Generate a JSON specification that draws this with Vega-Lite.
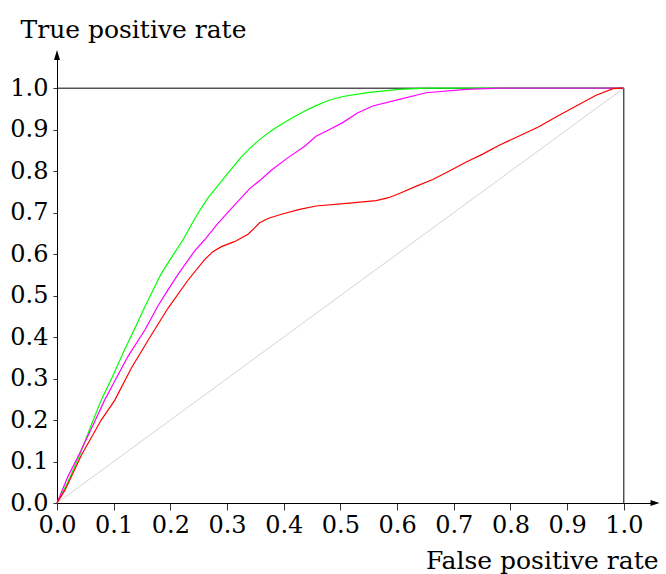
{
  "$schema": "https://vega.github.io/schema/vega-lite/v6.json",
  "width": 598,
  "height": 448,
  "autosize": {"type": "none"},
  "padding": {"left": 57, "top": 55, "right": 11, "bottom": 71},
  "background": "white",
  "config": {
    "view": {"stroke": null},
    "axis": {
      "grid": false,
      "domainColor": "black",
      "domainWidth": 1,
      "tickColor": "#333333",
      "tickWidth": 1,
      "labelColor": "black",
      "labelOverlap": false,
      "labelFlush": false,
      "titleFontWeight": "normal",
      "titleColor": "black"
    }
  },
  "datasets": {
    "roc": [
      {"model": "green", "fpr": 0, "tpr": 0},
      {"model": "green", "fpr": 0.019, "tpr": 0.05},
      {"model": "green", "fpr": 0.04, "tpr": 0.115},
      {"model": "green", "fpr": 0.061, "tpr": 0.19},
      {"model": "green", "fpr": 0.078, "tpr": 0.248},
      {"model": "green", "fpr": 0.098, "tpr": 0.305},
      {"model": "green", "fpr": 0.119, "tpr": 0.369},
      {"model": "green", "fpr": 0.137, "tpr": 0.42},
      {"model": "green", "fpr": 0.155, "tpr": 0.473},
      {"model": "green", "fpr": 0.184, "tpr": 0.553},
      {"model": "green", "fpr": 0.202, "tpr": 0.592},
      {"model": "green", "fpr": 0.222, "tpr": 0.634},
      {"model": "green", "fpr": 0.245, "tpr": 0.69},
      {"model": "green", "fpr": 0.266, "tpr": 0.735},
      {"model": "green", "fpr": 0.285, "tpr": 0.767},
      {"model": "green", "fpr": 0.302, "tpr": 0.796},
      {"model": "green", "fpr": 0.325, "tpr": 0.834},
      {"model": "green", "fpr": 0.34, "tpr": 0.855},
      {"model": "green", "fpr": 0.36, "tpr": 0.879},
      {"model": "green", "fpr": 0.38, "tpr": 0.899},
      {"model": "green", "fpr": 0.396, "tpr": 0.913},
      {"model": "green", "fpr": 0.417, "tpr": 0.93},
      {"model": "green", "fpr": 0.437, "tpr": 0.945},
      {"model": "green", "fpr": 0.457, "tpr": 0.958},
      {"model": "green", "fpr": 0.48, "tpr": 0.971},
      {"model": "green", "fpr": 0.504, "tpr": 0.98},
      {"model": "green", "fpr": 0.551, "tpr": 0.99},
      {"model": "green", "fpr": 0.604, "tpr": 0.997},
      {"model": "green", "fpr": 0.651, "tpr": 1.0},
      {"model": "green", "fpr": 1.0, "tpr": 1.0},
      {"model": "magenta", "fpr": 0, "tpr": 0},
      {"model": "magenta", "fpr": 0.019, "tpr": 0.063},
      {"model": "magenta", "fpr": 0.04, "tpr": 0.12},
      {"model": "magenta", "fpr": 0.061, "tpr": 0.18},
      {"model": "magenta", "fpr": 0.084, "tpr": 0.248},
      {"model": "magenta", "fpr": 0.105, "tpr": 0.302},
      {"model": "magenta", "fpr": 0.125, "tpr": 0.353},
      {"model": "magenta", "fpr": 0.155, "tpr": 0.417},
      {"model": "magenta", "fpr": 0.178, "tpr": 0.475},
      {"model": "magenta", "fpr": 0.195, "tpr": 0.512},
      {"model": "magenta", "fpr": 0.213, "tpr": 0.55},
      {"model": "magenta", "fpr": 0.243, "tpr": 0.608},
      {"model": "magenta", "fpr": 0.26, "tpr": 0.634},
      {"model": "magenta", "fpr": 0.284, "tpr": 0.674},
      {"model": "magenta", "fpr": 0.313, "tpr": 0.718},
      {"model": "magenta", "fpr": 0.34, "tpr": 0.758},
      {"model": "magenta", "fpr": 0.36, "tpr": 0.78},
      {"model": "magenta", "fpr": 0.378, "tpr": 0.802},
      {"model": "magenta", "fpr": 0.407, "tpr": 0.832},
      {"model": "magenta", "fpr": 0.437, "tpr": 0.86},
      {"model": "magenta", "fpr": 0.457, "tpr": 0.884},
      {"model": "magenta", "fpr": 0.48, "tpr": 0.9},
      {"model": "magenta", "fpr": 0.504, "tpr": 0.917},
      {"model": "magenta", "fpr": 0.53, "tpr": 0.94},
      {"model": "magenta", "fpr": 0.557, "tpr": 0.957},
      {"model": "magenta", "fpr": 0.604, "tpr": 0.973},
      {"model": "magenta", "fpr": 0.651, "tpr": 0.989},
      {"model": "magenta", "fpr": 0.722, "tpr": 0.997},
      {"model": "magenta", "fpr": 0.781, "tpr": 1.0},
      {"model": "magenta", "fpr": 1.0, "tpr": 1.0},
      {"model": "red", "fpr": 0, "tpr": 0},
      {"model": "red", "fpr": 0.014, "tpr": 0.031},
      {"model": "red", "fpr": 0.043, "tpr": 0.115},
      {"model": "red", "fpr": 0.078, "tpr": 0.2},
      {"model": "red", "fpr": 0.102, "tpr": 0.248},
      {"model": "red", "fpr": 0.131, "tpr": 0.325},
      {"model": "red", "fpr": 0.161, "tpr": 0.393},
      {"model": "red", "fpr": 0.196, "tpr": 0.47},
      {"model": "red", "fpr": 0.231, "tpr": 0.537},
      {"model": "red", "fpr": 0.26, "tpr": 0.586},
      {"model": "red", "fpr": 0.275, "tpr": 0.606},
      {"model": "red", "fpr": 0.29, "tpr": 0.618},
      {"model": "red", "fpr": 0.313, "tpr": 0.63},
      {"model": "red", "fpr": 0.337, "tpr": 0.648},
      {"model": "red", "fpr": 0.35, "tpr": 0.665},
      {"model": "red", "fpr": 0.357, "tpr": 0.675},
      {"model": "red", "fpr": 0.372, "tpr": 0.686},
      {"model": "red", "fpr": 0.396, "tpr": 0.696},
      {"model": "red", "fpr": 0.428, "tpr": 0.708},
      {"model": "red", "fpr": 0.457, "tpr": 0.716},
      {"model": "red", "fpr": 0.516, "tpr": 0.723},
      {"model": "red", "fpr": 0.563, "tpr": 0.729},
      {"model": "red", "fpr": 0.585, "tpr": 0.736},
      {"model": "red", "fpr": 0.604, "tpr": 0.746},
      {"model": "red", "fpr": 0.634, "tpr": 0.764},
      {"model": "red", "fpr": 0.663, "tpr": 0.78},
      {"model": "red", "fpr": 0.693, "tpr": 0.801},
      {"model": "red", "fpr": 0.722, "tpr": 0.822},
      {"model": "red", "fpr": 0.751, "tpr": 0.841},
      {"model": "red", "fpr": 0.781, "tpr": 0.863},
      {"model": "red", "fpr": 0.822, "tpr": 0.889},
      {"model": "red", "fpr": 0.85, "tpr": 0.907},
      {"model": "red", "fpr": 0.881, "tpr": 0.931},
      {"model": "red", "fpr": 0.916, "tpr": 0.957},
      {"model": "red", "fpr": 0.951, "tpr": 0.983},
      {"model": "red", "fpr": 0.981, "tpr": 0.999},
      {"model": "red", "fpr": 0.998, "tpr": 1.0}
    ]
  },
  "layer": [
    {
      "data": {"values": [{}]},
      "mark": {"type": "rule", "color": "#d3d3d3", "strokeWidth": 1},
      "encoding": {
        "x": {"datum": 0, "type": "quantitative", "scale": {"domain": [0, 1.055], "nice": false, "zero": false},
          "axis": {"values": [0, 0.1, 0.2, 0.3, 0.4, 0.5, 0.6, 0.7, 0.8, 0.9, 1.0], "format": ".1f", "tickSize": 7, "labelPadding": 3, "labelOverlap": false, "labelFlush": false,
            "labelFont": "DejaVu Serif", "labelFontSize": 24, "titleFont": "DejaVu Serif", "titleFontSize": 25,
            "title": "False positive rate", "titleAngle": 0, "titleAlign": "right", "titleBaseline": "alphabetic", "titleX": 601, "titleY": 65}},
        "y": {"datum": 0, "type": "quantitative", "scale": {"domain": [0, 1.08], "nice": false, "zero": false},
          "axis": {"values": [0, 0.1, 0.2, 0.3, 0.4, 0.5, 0.6, 0.7, 0.8, 0.9, 1.0], "format": ".1f", "tickSize": 4, "labelPadding": 5, "labelOverlap": false, "labelFlush": false,
            "labelFont": "DejaVu Serif", "labelFontSize": 24, "titleFont": "DejaVu Serif", "titleFontSize": 25,
            "title": "True positive rate", "titleAngle": 0, "titleAlign": "left", "titleBaseline": "alphabetic", "titleX": -37, "titleY": -18}},
        "x2": {"datum": 1},
        "y2": {"datum": 1}
      }
    },
    {
      "data": {"values": [{}]},
      "mark": {"type": "rule", "color": "black", "strokeWidth": 1},
      "encoding": {
        "x": {"datum": 0, "type": "quantitative"},
        "x2": {"datum": 1},
        "y": {"datum": 1, "type": "quantitative"}
      }
    },
    {
      "data": {"values": [{}]},
      "mark": {"type": "rule", "color": "black", "strokeWidth": 1},
      "encoding": {
        "x": {"datum": 1, "type": "quantitative"},
        "y": {"datum": 0, "type": "quantitative"},
        "y2": {"datum": 1}
      }
    },
    {
      "data": {"name": "roc"},
      "mark": {"type": "line", "strokeWidth": 1.2, "interpolate": "linear"},
      "encoding": {
        "x": {"field": "fpr", "type": "quantitative"},
        "y": {"field": "tpr", "type": "quantitative"},
        "color": {"field": "model", "type": "nominal",
          "scale": {"domain": ["green", "magenta", "red"], "range": ["#00ff00", "#ff00ff", "#ff0000"]},
          "legend": null},
        "order": {"field": "fpr", "type": "quantitative"}
      }
    },
    {
      "data": {"values": [{}]},
      "mark": {"type": "point", "filled": true, "color": "black", "opacity": 1, "size": 81, "shape": "M-1,-0.65L1,0L-1,0.65Z", "clip": false},
      "encoding": {
        "x": {"datum": 1.055, "type": "quantitative"},
        "y": {"datum": 0, "type": "quantitative"}
      }
    },
    {
      "data": {"values": [{}]},
      "mark": {"type": "point", "filled": true, "color": "black", "opacity": 1, "size": 100, "shape": "M-0.6,1L0,-1L0.6,1Z", "clip": false},
      "encoding": {
        "x": {"datum": 0, "type": "quantitative"},
        "y": {"datum": 1.08, "type": "quantitative"}
      }
    }
  ]
}
